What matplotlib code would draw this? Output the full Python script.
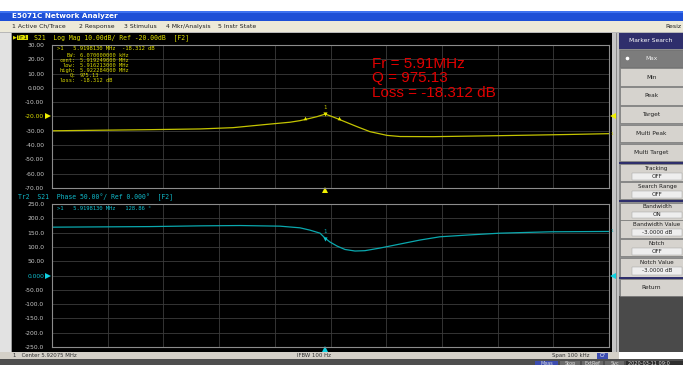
import matplotlib
matplotlib.use('Agg')
import matplotlib.pyplot as plt
from matplotlib.patches import Rectangle
import numpy as np

# ---------------- data ----------------
f_center = 5.92075          # MHz
f_span = 0.100              # MHz
f_start = f_center - f_span / 2
f_stop = f_center + f_span / 2

mag_freq = [5.87075, 5.87937, 5.88834, 5.89732, 5.90325, 5.90935, 5.91348, 5.91527,
            5.91707, 5.91833, 5.91981, 5.92120, 5.92299, 5.92551, 5.92784, 5.93089,
            5.93323, 5.93915, 5.95118, 5.96321, 5.97075]
mag_db = [-30.0, -29.6, -29.2, -28.7, -27.8, -25.5, -24.0, -22.9,
          -21.3, -20.1, -18.3, -20.3, -23.1, -27.1, -30.6, -33.2,
          -34.0, -34.1, -33.4, -32.6, -32.0]

ph_freq = [5.87075, 5.88834, 5.89732, 5.90450, 5.91168, 5.91527, 5.91707, 5.91887,
           5.91981, 5.92066, 5.92192, 5.92335, 5.92515, 5.92694, 5.92964, 5.93323,
           5.93682, 5.94041, 5.94579, 5.95118, 5.96016, 5.97075]
ph_deg = [169.0, 171.0, 173.6, 174.7, 172.5, 166.7, 158.6, 148.0,
          130.0, 117.0, 103.0, 91.0, 85.6, 86.8, 96.0, 110.0,
          124.0, 135.4, 142.0, 148.0, 152.8, 154.0]

mag_ticks = [30, 20, 10, 0, -10, -20, -30, -40, -50, -60, -70]
mag_tick_labels = ['30.00', '20.00', '10.00', '0.000', '-10.00', '-20.00',
                   '-30.00', '-40.00', '-50.00', '-60.00', '-70.00']
ph_ticks = [250, 200, 150, 100, 50, 0, -50, -100, -150, -200, -250]
ph_tick_labels = ['250.0', '200.0', '150.0', '100.0', '50.00', '0.000',
                  '-50.00', '-100.0', '-150.0', '-200.0', '-250.0']

mag_ref = -20.0
ph_ref = 0.0
mk_freq = 5.9198130
mk_db = -18.312
mk_deg = 128.86
bw_low = 5.916213
bw_high = 5.922284
bw_level = -21.312

info_labels = ['BW:', 'cent:', 'low:', 'high:', 'Q:', 'loss:']
info_values = ['6.070000000 kHz', '5.919249000 MHz', '5.916213000 MHz',
               '5.922284000 MHz', '975.13', '-18.312 dB']
red_lines = ['Fr = 5.91MHz', 'Q = 975.13', 'Loss = -18.312 dB']

menu_items = ['1 Active Ch/Trace', '2 Response', '3 Stimulus', '4 Mkr/Analysis', '5 Instr State']
menu_x = [12, 79, 124, 166, 218]

soft_single = ['Max', 'Min', 'Peak', 'Target', 'Multi Peak', 'Multi Target']
soft_double = [('Tracking', 'OFF'), ('Search Range', 'OFF'), ('Bandwidth', 'ON'),
               ('Bandwidth Value', '-3.0000 dB'), ('Notch', 'OFF'), ('Notch Value', '-3.0000 dB')]

# ---------------- figure ----------------
W, H = 683, 365
fig = plt.figure(figsize=(W / 100, H / 100), dpi=100)
fig.patch.set_facecolor('white')


def pax(x0, y0, x1, y1):
    return [x0 / W, 1 - y1 / H, (x1 - x0) / W, (y1 - y0) / H]


bg = fig.add_axes([0, 0, 1, 1])
bg.set_xlim(0, W)
bg.set_ylim(H, 0)
bg.axis('off')


def R(x0, y0, x1, y1, fc, ec='none', lw=0.0, ax=bg):
    ax.add_patch(Rectangle((x0, y0), x1 - x0, y1 - y0, facecolor=fc, edgecolor=ec, linewidth=lw))


# window chrome
R(0, 11, W, 21, '#1d4fd6')
R(0, 11, W, 12.5, '#3d72f0')
bg.text(12, 16.2, 'E5071C Network Analyzer', color='white', fontsize=5.2,
        fontweight='bold', va='center', ha='left')
R(0, 21, W, 31.5, '#ece9d8')
for t, x in zip(menu_items, menu_x):
    bg.text(x, 26.3, t, fontsize=4.4, va='center', ha='left', color='#202020')
bg.text(682, 26.3, 'Resiz', fontsize=4.4, va='center', ha='right', color='#202020')
R(0, 31.5, W, 33, '#b8b8b8')
R(0, 33, 12, 352, '#e2e2e2')
R(11, 33, 12, 352, '#9a9a9a')
R(12, 33, 612, 352, 'black')
R(612, 33, 619, 352, '#c4c4c4')
R(616, 33, 617, 352, '#8a8a8a')

# status bars
R(0, 352, 619, 359, '#d4d0c8')
R(0, 359, W, H, '#4e4e4e')
bg.text(13, 355.7, '1   Center 5.92075 MHz', fontsize=3.9, va='center', ha='left', color='#303030')
bg.text(297, 355.7, 'IFBW 100 Hz', fontsize=3.9, va='center', ha='left', color='#303030')
bg.text(552, 355.7, 'Span 100 kHz', fontsize=3.9, va='center', ha='left', color='#303030')
R(597, 353, 608, 358.5, '#3c4cb0')
bg.text(602.5, 355.7, 'C?', fontsize=3.5, va='center', ha='center', color='white')
for x0, x1, t, fc in [(535, 558, 'Meas', '#3c4cb0'), (560, 580, 'Stop', '#6a6a6a'),
                      (582, 603, 'ExtRef', '#6a6a6a'), (605, 624, 'Svc', '#6a6a6a')]:
    R(x0, 360.5, x1, H, fc)
    bg.text((x0 + x1) / 2, 363.5, t, fontsize=3.5, va='center', ha='center', color='#dddddd')
R(626, 360.5, W, H, '#2e2e2e')
bg.text(628, 363.5, '2020-03-11 09:0', fontsize=3.6, va='center', ha='left', color='#dddddd')

# softkey panel
R(619, 33, W, 296, '#8e8e8e')
R(619, 296, W, 352, '#4a4a4a')
R(619, 33, W, 48.5, '#2f2f6c')
bg.text(651, 40.8, 'Marker Search', fontsize=4.3, va='center', ha='center', color='white')
y = 49.5
for i, t in enumerate(soft_single):
    fc = '#7c7c7c' if i == 0 else '#d6d3ce'
    tc = '#eeeeee' if i == 0 else '#202020'
    R(620, y, 682.5, y + 17.6, fc, ec='#6a6a6a', lw=0.4)
    bg.text(651.5, y + 8.8, t, fontsize=4.2, va='center', ha='center', color=tc)
    if i == 0:
        bg.plot([627], [y + 8.8], 'o', color='white', markersize=1.6)
    y += 18.8
R(619, 161.5, W, 163.5, '#2f2f6c')
ys = [164, 182, 202.5, 219.5, 239, 258]
for (lab, val), y0 in zip(soft_double, ys):
    h = 17.3 if lab not in ('Bandwidth Value', 'Notch Value') else 18.5
    R(620, y0, 682.5, y0 + h, '#d6d3ce', ec='#6a6a6a', lw=0.4)
    bg.text(657, y0 + 4.5, lab, fontsize=4.1, va='center', ha='center', color='#202020')
    R(632, y0 + 9.0, 681.5, y0 + h - 1.8, '#eeeeee', ec='#9a9a9a', lw=0.3)
    bg.text(657, y0 + 12.3 + (h - 17.3) / 2, val, fontsize=4.1, va='center', ha='center', color='#202020')
R(619, 199.5, W, 202, '#2f2f6c')
R(619, 277, W, 279, '#2f2f6c')
R(620, 279, 682.5, 295.5, '#d6d3ce', ec='#6a6a6a', lw=0.4)
bg.text(651.5, 287.2, 'Return', fontsize=4.2, va='center', ha='center', color='#202020')

# trace headers
bg.text(13, 37.3, '\u25b6', fontsize=3.6, va='center', ha='left', color='#e0e000')
R(16.5, 34.6, 27.5, 40.0, '#e0e000')
bg.text(22, 37.3, 'Tr1', fontsize=4.3, va='center', ha='center', color='black',
        family='DejaVu Sans Mono')
bg.text(34, 37.3, 'S21  Log Mag 10.00dB/ Ref -20.00dB  [F2]', fontsize=4.7, va='center',
        ha='left', color='#e0e000', family='DejaVu Sans Mono')
bg.text(18, 197.0, 'Tr2  S21  Phase 50.00\u00b0/ Ref 0.000\u00b0  [F2]', fontsize=4.7,
        va='center', ha='left', color='#10b8c8', family='DejaVu Sans Mono')

YEL = '#c4c400'
CYA = '#0aa8ae'
GRID = '#3c3c3c'
FRAME = '#8c8c8c'


def style(ax, ticks, labels, ylim, refcol, reflabel):
    ax.set_facecolor('black')
    ax.set_xlim(f_start, f_stop)
    ax.set_ylim(*ylim)
    ax.set_xticks(np.linspace(f_start, f_stop, 11))
    ax.set_xticklabels([])
    ax.set_yticks(ticks)
    ax.set_yticklabels(labels, fontsize=4.3, color='#c8c8c8')
    for lbl in ax.get_yticklabels():
        if lbl.get_text() == reflabel:
            lbl.set_color(refcol)
    ax.tick_params(length=0, pad=5.6)
    ax.grid(True, color=GRID, lw=0.6)
    for s in ax.spines.values():
        s.set_color(FRAME)
        s.set_linewidth(0.8)


# magnitude panel
ax1 = fig.add_axes(pax(52, 45, 609, 188))
style(ax1, mag_ticks, mag_tick_labels, (-70, 30), '#e0e000', '-20.00')
ax1.plot(mag_freq, mag_db, color=YEL, lw=0.9)
ax1.plot([bw_low, bw_high], [bw_level, bw_level], '^', color='#e8e800', markersize=2.6, mew=0)
ax1.plot([mk_freq], [mk_db], 'v', color='#e8e800', markersize=3, mew=0)
ax1.annotate('1', (mk_freq, mk_db), xytext=(0, 5), textcoords='offset points',
             fontsize=4, color=YEL, ha='center', va='center')
ax1.plot([mk_freq], [-0.016], '^', color='#f0f000', markersize=4, mew=0,
         transform=ax1.get_xaxis_transform(), clip_on=False)
ax1.plot([-0.008], [mag_ref], '>', color='#f0f000', markersize=4, mew=0,
         transform=ax1.get_yaxis_transform(), clip_on=False)
ax1.plot([1.007], [mag_ref], '<', color='#f0f000', markersize=4, mew=0,
         transform=ax1.get_yaxis_transform(), clip_on=False)
ax1.text(1.003, mag_db[-1], '1', fontsize=3.2, color=YEL, va='center', ha='left',
         transform=ax1.get_yaxis_transform(), clip_on=False)

# marker readout
ax1.text(0.009, 0.975, '>1   5.9198130 MHz  -18.312 dB', transform=ax1.transAxes,
         fontsize=4.0, color='#e0e000', family='DejaVu Sans Mono', va='center', ha='left')
for i, (lab, val) in enumerate(zip(info_labels, info_values)):
    yy = 0.93 - i * 0.035
    ax1.text(0.043, yy, lab, transform=ax1.transAxes, fontsize=3.9, color='#d8d800',
             family='DejaVu Sans Mono', va='center', ha='right')
    ax1.text(0.05, yy, val, transform=ax1.transAxes, fontsize=3.9, color='#d8d800',
             family='DejaVu Sans Mono', va='center', ha='left')

# red annotation
for i, t in enumerate(red_lines):
    ax1.text(0.574, 0.867 - i * 0.1, t, transform=ax1.transAxes, fontsize=11,
             color='#e00000', family='Liberation Sans', va='center', ha='left')

# phase panel
ax2 = fig.add_axes(pax(52, 204, 609, 347))
style(ax2, ph_ticks, ph_tick_labels, (-250, 250), '#10c0d0', '0.000')
ax2.plot(ph_freq, ph_deg, color=CYA, lw=0.9)
ax2.plot([mk_freq], [mk_deg], 'v', color='#10c0c8', markersize=3, mew=0)
ax2.annotate('1', (mk_freq, mk_deg), xytext=(0, 5), textcoords='offset points',
             fontsize=4, color=CYA, ha='center', va='center')
ax2.plot([mk_freq], [-0.015], '^', color='#10d0e0', markersize=4, mew=0,
         transform=ax2.get_xaxis_transform(), clip_on=False)
ax2.plot([-0.008], [ph_ref], '>', color='#10d0e0', markersize=4, mew=0,
         transform=ax2.get_yaxis_transform(), clip_on=False)
ax2.plot([1.007], [ph_ref], '<', color='#10d0e0', markersize=4, mew=0,
         transform=ax2.get_yaxis_transform(), clip_on=False)
ax2.text(1.003, ph_deg[-1], '1', fontsize=3.2, color=CYA, va='center', ha='left',
         transform=ax2.get_yaxis_transform(), clip_on=False)
ax2.text(0.009, 0.972, '>1   5.9198130 MHz   128.86 \u00b0', transform=ax2.transAxes,
         fontsize=4.0, color='#10c0d0', family='DejaVu Sans Mono', va='center', ha='left')

fig.savefig('out.png', dpi=100, facecolor=fig.get_facecolor())
